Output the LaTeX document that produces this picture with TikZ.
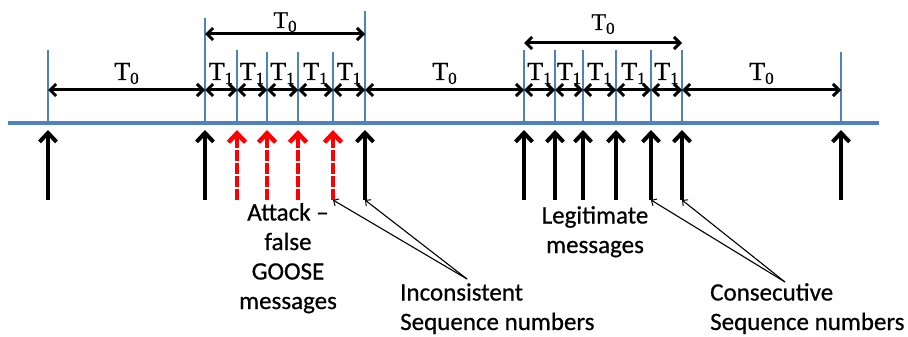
\documentclass[tikz,border=0pt]{standalone}
\usepackage{fontspec}
\setmainfont[FakeBold=0.6]{Liberation Serif}
\newfontfamily\calfont[FakeBold=0.6]{Carlito}
\usetikzlibrary{arrows.meta}
\definecolor{tickblue}{RGB}{79,129,189}
\definecolor{attackred}{RGB}{255,0,0}
\newcommand\Tsub[1]{T\raisebox{-4pt}{\fontsize{17}{17}\selectfont #1}}
\tikzset{
  tickline/.style={draw=tickblue, line width=2pt},
  axisline/.style={draw=tickblue, line width=4pt},
  harr/.style={draw=black, line width=3pt, {Straight Barb[length=6pt,width=12pt]}-{Straight Barb[length=6pt,width=12pt]}},
  msg/.style={draw=black, line width=4pt, -{Straight Barb[length=9pt,width=17pt]}},
  fake/.style={draw=attackred, line width=4.5pt, dash pattern=on 11pt off 2pt, -{Straight Barb[length=9pt,width=17pt]}},
  ptr/.style={draw=black, line width=1.1pt, -{Straight Barb[length=4pt,width=8pt,line width=1pt]}},
  tlab/.style={inner sep=0pt, anchor=base, font=\fontsize{26}{26}\selectfont},
  tlabup/.style={inner sep=0pt, anchor=base, font=\fontsize{24}{24}\selectfont},
  lab/.style={inner sep=0pt, font=\calfont\fontsize{25}{29.5}\selectfont}
}
\begin{document}
\begin{tikzpicture}[x=1pt,y=-1pt]
\useasboundingbox (0,0) rectangle (908,337);
% tick coordinates: index/x/top
\foreach \i/\x/\t in {1/48/50,2/205/18,3/237/50,4/267/52,5/298/52,6/333/52,7/365/11,
                      8/524/50,9/555/50,10/583/50,11/616/50,12/651/50,13/682/50,14/841/52}{
  \coordinate (t\i) at (\x,\t);
  \coordinate (b\i) at (\x,123);
  \coordinate (h\i) at (\x,90);
  \coordinate (mt\i) at (\x,130);
  \coordinate (mb\i) at (\x,200);
}
\coordinate (axL) at (8,123);
\coordinate (axR) at (879,123);
\coordinate (u2) at (205,34);
\coordinate (u7) at (365,34);
\coordinate (u8) at (524,43);
\coordinate (u13) at (682,43);
% ticks
\foreach \i in {1,...,14}{ \draw[tickline] (t\i) -- (b\i); }
\draw[axisline] (axL) -- (axR);
% interval arrows
\draw[harr] (h1) -- node[tlab, yshift=10pt]{\Tsub{0}} (h2);
\foreach \a/\b in {2/3,3/4,4/5,5/6,6/7,8/9,9/10,10/11,11/12,12/13}{
  \draw[harr] (h\a) -- node[tlab, yshift=10pt]{\Tsub{1}} (h\b);
}
\draw[harr] (h7) -- node[tlab, yshift=10pt]{\Tsub{0}} (h8);
\draw[harr] (h13) -- node[tlab, yshift=10pt]{\Tsub{0}} (h14);
\draw[harr] (u2) -- node[tlabup, yshift=6pt]{\Tsub{0}} (u7);
\draw[harr] (u8) -- node[tlabup, yshift=13pt]{\Tsub{0}} (u13);
% messages
\foreach \i in {1,2,7,8,9,10,11,12,13,14}{ \draw[msg] (mb\i) -- (mt\i); }
\foreach \i in {3,4,5,6}{ \draw[fake] (mb\i) -- (mt\i); }
% texts (base anchor = baseline of last line)
\node[lab, align=center, anchor=base] (atk) at (288,309) {Attack –\\false\\GOOSE\\messages};
\node[lab, align=center, anchor=base] (leg) at (595,253) {Legitimate\\messages};
\node[lab, align=left, anchor=base west] (inc) at (400,330) {Inconsistent\\Sequence numbers};
\node[lab, align=left, anchor=base west] (con) at (710,330) {Consecutive\\Sequence numbers};
\coordinate (incp) at (467,279);
\coordinate (conp) at (785,282);
\draw[ptr] (incp) -- (mb6);
\draw[ptr] (incp) -- (mb7);
\draw[ptr] (conp) -- (mb12);
\draw[ptr] (conp) -- (mb13);
\end{tikzpicture}
\end{document}
